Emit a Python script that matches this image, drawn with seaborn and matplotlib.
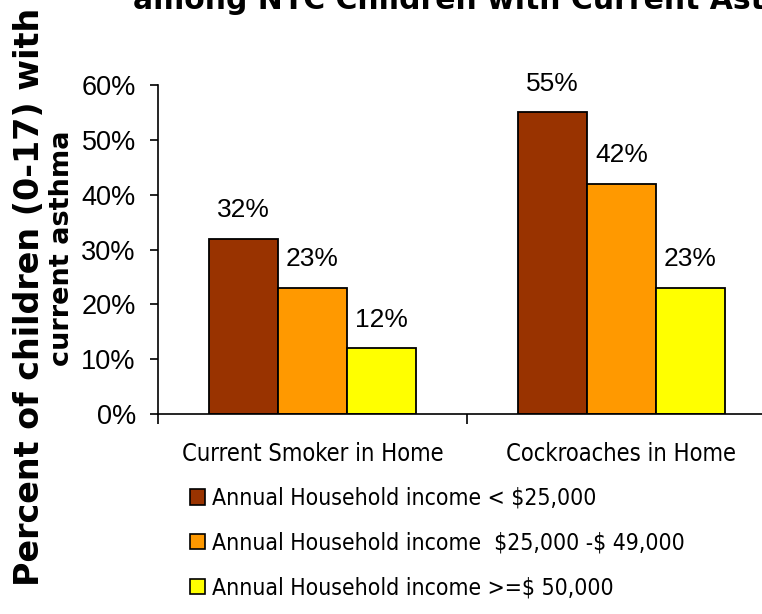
import matplotlib
matplotlib.use("Agg")
import matplotlib.pyplot as plt
import seaborn as sns
import pandas as pd
from matplotlib.font_manager import FontProperties

# ---- data ----
categories = ["Current Smoker in Home", "Cockroaches in Home"]
income_groups = [
    "Annual Household income < $25,000",
    "Annual Household income  $25,000 -$ 49,000",
    "Annual Household income >=$ 50,000",
]
income_lt_25k = [32, 55]
income_25k_49k = [23, 42]
income_ge_50k = [12, 23]
y_ticks = [0, 10, 20, 30, 40, 50, 60]
y_tick_labels = ["0%", "10%", "20%", "30%", "40%", "50%", "60%"]
colors = ["#993300", "#FF9900", "#FFFF00"]

series = [income_lt_25k, income_25k_49k, income_ge_50k]
rows = []
for g, vals in zip(income_groups, series):
    for c, v in zip(categories, vals):
        rows.append({"category": c, "income": g, "value": v})
df = pd.DataFrame(rows)

sns.set_theme(style="white")
plt.rcParams["font.family"] = ["DejaVu Sans"]
plt.rcParams["text.color"] = "black"
plt.rcParams["xtick.color"] = "black"
plt.rcParams["ytick.color"] = "black"
plt.rcParams["axes.labelcolor"] = "black"

narrow = ["Liberation Sans Narrow", "Liberation Sans", "DejaVu Sans"]
cond = FontProperties(family="DejaVu Sans", stretch="condensed", size=17)

fig = plt.figure(figsize=(7.62, 6.14), dpi=100)
ax = fig.add_axes([158 / 762, 1 - 414 / 614, (776 - 158) / 762, (414 - 85) / 614])

sns.barplot(
    data=df, x="category", y="value", hue="income",
    order=categories, hue_order=income_groups,
    palette=colors, width=0.67, edgecolor="black", linewidth=1.3,
    saturation=1, ax=ax, legend=True,
)
handles, labels = ax.get_legend_handles_labels()
ax.get_legend().remove()

for cont in ax.containers:
    vals = [int(round(b.get_height())) for b in cont]
    ax.bar_label(cont, labels=[f"{v}%" for v in vals], padding=12,
                 fontsize=19, family=narrow, color="black")

ax.set_xlim(-0.5, 1.5)
ax.set_ylim(0, 60)
ax.set_yticks(y_ticks)
ax.set_yticklabels(y_tick_labels, family=narrow, fontsize=19.5, color="black")
ax.tick_params(axis="y", which="major", direction="out", length=6, width=1.2,
               color="black", pad=10, left=True)
ax.set_xticks([0, 1])
ax.set_xticklabels(categories, fontproperties=cond, color="black")
ax.tick_params(axis="x", which="major", length=0, pad=20)
ax.set_xticks([-0.5, 0.5, 1.5], minor=True)
ax.tick_params(axis="x", which="minor", direction="out", length=7, width=1.2,
               color="black", bottom=True)
ax.set_xlabel("")
ax.set_ylabel("")
for s in ["top", "right"]:
    ax.spines[s].set_visible(False)
for s in ["left", "bottom"]:
    ax.spines[s].set_color("black")
    ax.spines[s].set_linewidth(1.2)

# y-axis title (two lines)
fig.text(30 / 762, 1 - 297 / 614, "Percent of children (0-17) with",
         rotation=90, ha="center", va="center", fontsize=24,
         fontweight="bold", family="DejaVu Sans", color="black")
fig.text(62 / 762, 1 - 248 / 614, "current asthma",
         rotation=90, ha="center", va="center", fontsize=19.5,
         fontweight="bold", family="DejaVu Sans", color="black")

# title (clipped at the top of the canvas)
fig.text(133 / 762, 1 - 9 / 614, "among NYC Children with Current Asthma",
         ha="left", va="baseline", fontsize=21.5, fontweight="bold",
         family="DejaVu Sans", color="black")

disp_labels = [l.replace("$", r"\$") for l in labels]
leg = fig.legend(handles, disp_labels, loc="upper left",
                 bbox_to_anchor=(190 / 762, 1 - 487 / 614),
                 frameon=False, borderpad=0, borderaxespad=0,
                 handlelength=0.65, handleheight=0.65, handletextpad=0.3,
                 labelspacing=0.95,
                 prop=FontProperties(family="DejaVu Sans", stretch="condensed", size=16.5))
for h in leg.legend_handles:
    h.set_edgecolor("black")
    h.set_linewidth(1.2)

fig.savefig("out.png", dpi=100)
